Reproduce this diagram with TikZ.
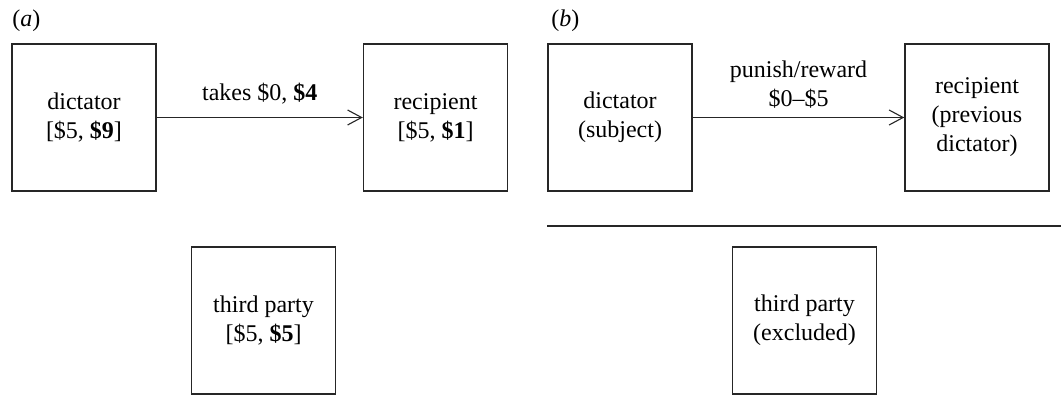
\documentclass[tikz,border=0pt]{standalone}
\usepackage{fontspec}
\setmainfont{Liberation Serif}
\usetikzlibrary{arrows.meta}
\begin{document}
\begin{tikzpicture}[x=0.5pt,y=-0.5pt,
  font=\fontsize{12pt}{14.5pt}\selectfont,
  player/.style={draw=black!85, line width=0.75pt, minimum width=72pt,
    minimum height=73.5pt, inner sep=0pt, align=center},
  move/.style={draw=black!85, line width=0.55pt,
    -{Straight Barb[length=7pt,width=7.5pt,line width=0.55pt]}},
  panel/.style={anchor=base west, inner sep=0pt}]
  \useasboundingbox (0,0) rectangle (1061,396);

  % panel (a): dictator takes from recipient, third party watches
  \node[panel] (la) at (12,26) {(\textit{a})};
  \node[player] (ad) at (84,117.5) {dictator\\{[}\$5, \textbf{\$9}{]}};
  \node[player] (ar) at (435.5,117.5) {recipient\\{[}\$5, \textbf{\$1}{]}};
  \node[player] (at) at (263.5,320.5) {third party\\{[}\$5, \textbf{\$5}{]}};
  \draw[move] (ad) -- node[anchor=base, inner sep=0pt, yshift=8.75pt]
    {takes \$0, \textbf{\$4}} (ar);

  % panel (b): subject punishes or rewards the previous dictator
  \node[panel] (lb) at (551,26) {(\textit{b})};
  \node[player] (bd) at (620,117.5) {dictator\\(subject)};
  \node[player] (br) at (977,117.5) {recipient\\(previous\\dictator)};
  \node[player] (bt) at (804.5,320.5) {third party\\(excluded)};
  \draw[move] (bd) -- node[anchor=south, inner sep=0pt, yshift=4.5pt,
    align=center] {punish/reward\\\$0\textendash\$5} (br);

  % separator keeping the third party out
  \coordinate (sl) at (547,226);
  \coordinate (sr) at (1061,226);
  \draw[black!85, line width=0.7pt] (sl) -- (sr);
\end{tikzpicture}
\end{document}
